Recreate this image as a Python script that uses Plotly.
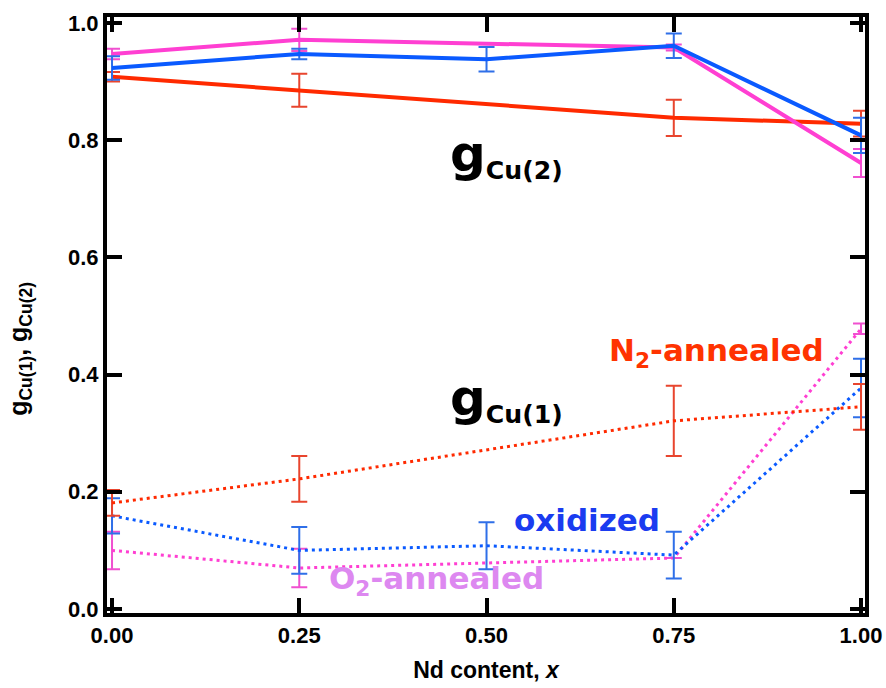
import plotly.graph_objects as go

# ---- data ----
x_tick_vals = [0.0, 0.25, 0.5, 0.75, 1.0]
x_tick_text = ["0.00", "0.25", "0.50", "0.75", "1.00"]

# N2-annealed (red)
x_n2 = [0.0, 0.25, 0.75, 1.0]
n2_g2 = [0.908, 0.885, 0.838, 0.828]
n2_g2_err = [0.008, 0.028, 0.031, 0.022]
n2_g1 = [0.181, 0.222, 0.321, 0.345]
n2_g1_err = [0.022, 0.039, 0.060, 0.039]

# oxidized (blue)
x_ox = [0.0, 0.25, 0.5, 0.75, 1.0]
ox_g2 = [0.923, 0.947, 0.938, 0.961, 0.808]
ox_g2_err = [0.020, 0.009, 0.021, 0.021, 0.030]
ox_g1 = [0.159, 0.100, 0.108, 0.092, 0.377]
ox_g1_err = [0.030, 0.040, 0.040, 0.040, 0.050]

# O2-annealed (pink)
x_o2 = [0.0, 0.25, 0.75, 1.0]
o2_g2 = [0.947, 0.971, 0.958, 0.761]
o2_g2_err = [0.009, 0.019, 0.005, 0.024]
o2_g1 = [0.100, 0.070, 0.087, 0.478]
o2_g1_err = [0.032, 0.033, 0.0, 0.009]

RED, RED_E = "#FF2A00", "#E8452E"
BLUE, BLUE_E = "#0A5AFF", "#2F6FE8"
PINK, PINK_E = "#FF3FD2", "#F050D0"

fig = go.Figure()

def add(xs, ys, errs, color, ecolor, dash, width):
    fig.add_trace(go.Scatter(
        x=xs, y=ys, mode="lines",
        line=dict(color=color, width=width, dash=dash),
        error_y=dict(type="data", array=errs, visible=True,
                     color=ecolor, thickness=2, width=8),
        showlegend=False, hoverinfo="skip"))

# dotted gCu(1)
add(x_o2, o2_g1, o2_g1_err, PINK, PINK_E, "3px,4px", 3)
add(x_ox, ox_g1, ox_g1_err, BLUE, BLUE_E, "3px,4px", 3)
add(x_n2, n2_g1, n2_g1_err, RED, RED_E, "3px,4px", 3)
# solid gCu(2)
add(x_n2, n2_g2, n2_g2_err, RED, RED_E, "solid", 4)
add(x_o2, o2_g2, o2_g2_err, PINK, PINK_E, "solid", 4)
add(x_ox, ox_g2, ox_g2_err, BLUE, BLUE_E, "solid", 4)

lab_font = "DejaVu Sans"
annots = [
    dict(x=0.526, y=0.774, text="<span style='font-size:50px'>g</span><sub>Cu(2)</sub>",
         color="black", size=36),
    dict(x=0.526, y=0.359, text="<span style='font-size:50px'>g</span><sub>Cu(1)</sub>",
         color="black", size=36),
    dict(x=0.807, y=0.437, text="N<sub>2</sub>-annealed", color="#FF3300", size=31),
    dict(x=0.634, y=0.152, text="oxidized", color="#1A3CF0", size=31),
    dict(x=0.433, y=0.048, text="O<sub>2</sub>-annealed", color="#DD88F0", size=31),
]
for a in annots:
    fig.add_annotation(x=a["x"], y=a["y"], xref="x", yref="y", text=a["text"],
                       showarrow=False,
                       font=dict(family=lab_font, size=a["size"], color=a["color"], weight="bold"))

# y-axis title drawn as rotated annotation (sits a little below the axis middle)
fig.add_annotation(x=-0.115, y=0.443, xref="paper", yref="paper",
                   text="<b>g<sub>Cu(1)</sub>, g<sub>Cu(2)</sub></b>",
                   textangle=-90, showarrow=False, xanchor="center", yanchor="middle",
                   font=dict(family="Liberation Sans", size=25, color="black"))

tick_font = dict(family="Liberation Sans", size=22, color="black", weight="bold")

fig.update_xaxes(range=[-0.0067, 1.0053], tickvals=x_tick_vals, ticktext=x_tick_text,
                 ticks="inside", ticklen=15, tickwidth=4, tickcolor="black",
                 showline=True, linewidth=4, linecolor="black", mirror="ticks",
                 showgrid=False, zeroline=False, tickfont=tick_font, automargin=False,
                 title=dict(text="<b>Nd content, <i>x</i></b>",
                            font=dict(family="Liberation Sans", size=23, color="black"),
                            standoff=15))
fig.update_yaxes(range=[-0.0068, 1.010], tickvals=[0, 0.2, 0.4, 0.6, 0.8, 1.0],
                 tickformat=".1f",
                 ticks="inside", ticklen=15, tickwidth=4, tickcolor="black",
                 showline=True, linewidth=4, linecolor="black", mirror="ticks",
                 showgrid=False, zeroline=False, tickfont=tick_font, automargin=False)

fig.update_layout(width=886, height=688, plot_bgcolor="white", paper_bgcolor="white",
                  margin=dict(l=107, r=21, t=17, b=75, autoexpand=False))

fig.write_html("out.html", config={"displayModeBar": False})

# remove the default page margin so the figure sits at the window origin
with open("out.html", "r", encoding="utf-8") as f:
    html = f.read()
html = html.replace("<head>", "<head><style>html,body{margin:0;padding:0;overflow:hidden;}</style>", 1)
with open("out.html", "w", encoding="utf-8") as f:
    f.write(html)
